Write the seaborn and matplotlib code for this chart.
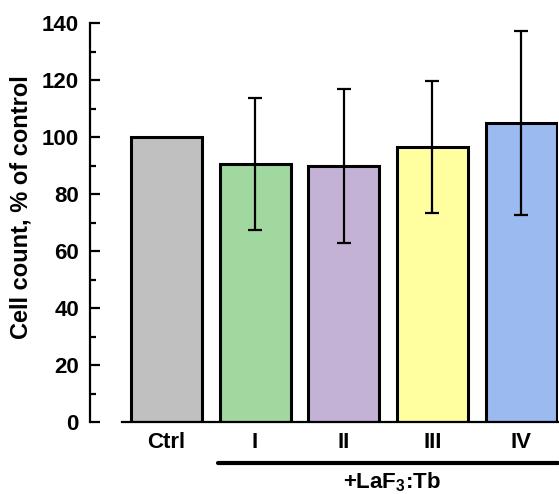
import matplotlib
matplotlib.use("Agg")
import matplotlib.pyplot as plt
import seaborn as sns
import pandas as pd
from matplotlib.ticker import MultipleLocator

# values
groups = ["Ctrl", "I", "II", "III", "IV"]
means = [100, 90.6, 89.8, 96.4, 104.9]
errs = [0, 23.1, 27.1, 23.2, 32.2]
colors = ["#C0C0C0", "#A0D89F", "#C3B2D6", "#FFFF9F", "#9BBAF0"]

sns.set_style("ticks")
plt.rcParams["font.family"] = ["Liberation Sans", "DejaVu Sans"]
plt.rcParams["font.weight"] = "bold"
plt.rcParams["text.color"] = "black"
plt.rcParams["axes.labelcolor"] = "black"
plt.rcParams["axes.edgecolor"] = "black"
plt.rcParams["xtick.color"] = "black"
plt.rcParams["ytick.color"] = "black"
plt.rcParams["mathtext.fontset"] = "custom"
plt.rcParams["mathtext.rm"] = "Liberation Sans:bold"
plt.rcParams["mathtext.bf"] = "Liberation Sans:bold"

df = pd.DataFrame({"group": groups, "value": means})

fig = plt.figure(figsize=(5.59, 4.94), dpi=100)
ax = fig.add_axes([0.2182, 0.1457, 0.7808, 0.8077])

sns.barplot(data=df, x="group", y="value", hue="group", palette=colors,
            legend=False, errorbar=None, width=0.8, edgecolor="black",
            linewidth=2.2, saturation=1, ax=ax)

# error bars centred on the drawn bars
for i, (m, e) in enumerate(zip(means, errs)):
    if e > 0:
        ax.errorbar(i, m, yerr=e, fmt="none", ecolor="black", elinewidth=1.6,
                    capsize=5, capthick=1.6, zorder=5)

ax.set_xlim(-0.5, 4.42)
ax.set_ylim(0, 140)
ax.yaxis.set_major_locator(MultipleLocator(20))
ax.yaxis.set_minor_locator(MultipleLocator(10))
ax.tick_params(axis="y", which="major", direction="in", length=7, width=1.6,
               labelsize=16, pad=8, colors="black")
ax.tick_params(axis="y", which="minor", direction="in", length=4, width=1.6,
               colors="black")
ax.tick_params(axis="x", length=0, labelsize=16, pad=7, colors="black")
for lab in ax.get_xticklabels() + ax.get_yticklabels():
    lab.set_fontweight("bold")

sns.despine(ax=ax)
ax.spines["left"].set_position(("outward", 23))
ax.spines["left"].set_linewidth(1.6)
ax.spines["bottom"].set_linewidth(1.6)

ax.set_xlabel("")
ax.set_ylabel("Cell count, % of control", fontsize=17, fontweight="bold",
              color="black")
ax.yaxis.set_label_coords(-0.204, 0.538)

# bracket line for treated groups
ax.plot([0.58, 4.41], [-0.102, -0.102], color="black", lw=3,
        transform=ax.get_xaxis_transform(), clip_on=False, solid_capstyle="round")
ax.text(2.54, -0.150, r"+LaF$_\mathbf{3}$:Tb", transform=ax.get_xaxis_transform(),
        ha="center", va="center", fontsize=16, fontweight="bold", color="black")

fig.savefig("out.png", dpi=100)
